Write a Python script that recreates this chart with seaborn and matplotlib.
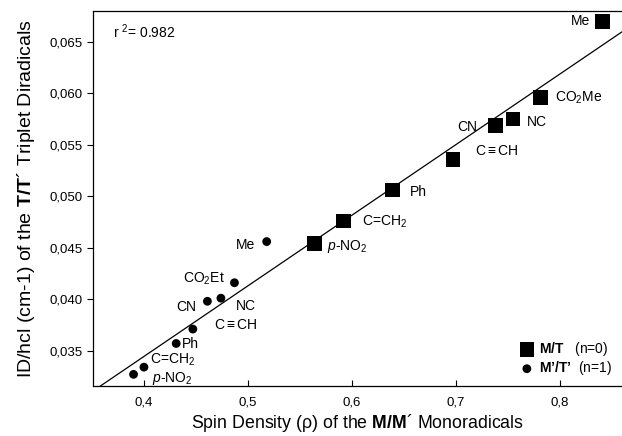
import numpy as np
import pandas as pd
import seaborn as sns
import matplotlib.pyplot as plt

# M/T (n=0) diradicals, squares
sq_labels = ['Me', 'CO$_2$Me', 'NC', 'CN', 'C$\\equiv$CH', 'Ph', 'C=CH$_2$', '$p$-NO$_2$']
sq_rho = [0.841, 0.781, 0.755, 0.738, 0.697, 0.639, 0.592, 0.564]
sq_d = [0.0670, 0.0596, 0.0575, 0.0569, 0.0536, 0.0506, 0.0476, 0.0454]

# M'/T' (n=1) diradicals, circles
ci_labels = ['Me', 'CO$_2$Et', 'NC', 'CN', 'C$\\equiv$CH', 'Ph', 'C=CH$_2$', '$p$-NO$_2$']
ci_rho = [0.518, 0.487, 0.474, 0.461, 0.447, 0.431, 0.400, 0.390]
ci_d = [0.0456, 0.0416, 0.0401, 0.0398, 0.0371, 0.0357, 0.0334, 0.0327]

x_ticks = [0.4, 0.5, 0.6, 0.7, 0.8]
y_ticks = [0.035, 0.040, 0.045, 0.050, 0.055, 0.060, 0.065]
r2_text = 'r $^2$= 0.982'

# label offsets in pixels (dx, dy, ha)
sq_offsets = [(-13, 0, 'right'), (15, 0, 'left'), (14, -3, 'left'), (-18, -2, 'right'),
              (22, 8, 'left'), (17, -2, 'left'), (18, -1, 'left'), (12, -3, 'left')]
ci_offsets = [(-12, -3, 'right'), (-10, 4, 'right'), (15, -8, 'left'), (-11, -6, 'right'),
              (21, 4, 'left'), (6, -1, 'left'), (6, 7, 'left'), (18, -4, 'left')]

sns.set_theme(style='ticks')
plt.rcParams['font.family'] = ['Liberation Sans', 'DejaVu Sans']
plt.rcParams['mathtext.fontset'] = 'custom'
plt.rcParams['mathtext.rm'] = 'Liberation Sans'
plt.rcParams['mathtext.it'] = 'Liberation Sans:italic'
plt.rcParams['mathtext.bf'] = 'Liberation Sans:bold'
for key in ['text.color', 'axes.labelcolor', 'xtick.color', 'ytick.color']:
    plt.rcParams[key] = 'black'

sq = pd.DataFrame({'rho': sq_rho, 'D': sq_d})
ci = pd.DataFrame({'rho': ci_rho, 'D': ci_d})

fig = plt.figure(figsize=(6.22, 4.36), dpi=100)
ax = fig.add_axes([0.1495, 0.1154, 0.8505, 0.8594])

xlim = (0.351, 0.8596)
ylim = (0.0316, 0.068)

# regression over both series
all_x = np.array(sq_rho + ci_rho)
all_y = np.array(sq_d + ci_d)
slope, icpt = np.polyfit(all_x, all_y, 1)
xx = np.array(xlim)
ax.plot(xx, slope * xx + icpt, color='black', lw=0.9, zorder=1)

sns.scatterplot(data=sq, x='rho', y='D', marker='s', s=110, color='black',
                edgecolor='none', ax=ax, zorder=3,
                label='$\\mathbf{M/T}$   (n=0)')
sns.scatterplot(data=ci, x='rho', y='D', marker='o', s=40, color='black',
                edgecolor='none', ax=ax, zorder=3,
                label='$\\mathbf{M\u2019/T\u2019}$  (n=1)')

for lab, x, y, (dx, dy, ha) in zip(sq_labels, sq_rho, sq_d, sq_offsets):
    ax.annotate(lab, (x, y), xytext=(dx, dy), textcoords='offset pixels',
                ha=ha, va='center', fontsize=10)
for lab, x, y, (dx, dy, ha) in zip(ci_labels, ci_rho, ci_d, ci_offsets):
    ax.annotate(lab, (x, y), xytext=(dx, dy), textcoords='offset pixels',
                ha=ha, va='center', fontsize=10)

ax.text(0.038, 0.944, r2_text, transform=ax.transAxes, fontsize=10,
        ha='left', va='center')

ax.set_xlim(*xlim)
ax.set_ylim(*ylim)
ax.set_xticks(x_ticks)
ax.set_xticklabels([f'{v:.1f}'.replace('.', ',') for v in x_ticks])
ax.set_yticks(y_ticks)
ax.set_yticklabels([f'{v:.3f}'.replace('.', ',') for v in y_ticks])
ax.tick_params(axis='x', direction='in', length=4, width=0.8, labelsize=9.5, pad=8)
ax.tick_params(axis='y', direction='out', length=4, width=0.8, labelsize=9.5)

for side in ['left', 'bottom', 'top']:
    ax.spines[side].set_linewidth(0.9)
    ax.spines[side].set_color('black')
ax.spines['right'].set_visible(False)

ax.set_xlabel('Spin Density (\u03c1) of the $\\mathbf{M/M}$\u00b4 Monoradicals',
              fontsize=12.8, labelpad=2)
ax.set_ylabel('ID/hcl (cm-1) of the $\\mathbf{T/T}$\u00b4 Triplet Diradicals',
              fontsize=14, labelpad=9)

leg = ax.legend(loc='lower right', bbox_to_anchor=(0.998, 0.0), frameon=False,
                fontsize=10, handlelength=1.2, handletextpad=0.3,
                labelspacing=0.1, borderaxespad=0.2, markerscale=1.0)

fig.savefig('out.png', dpi=100)
